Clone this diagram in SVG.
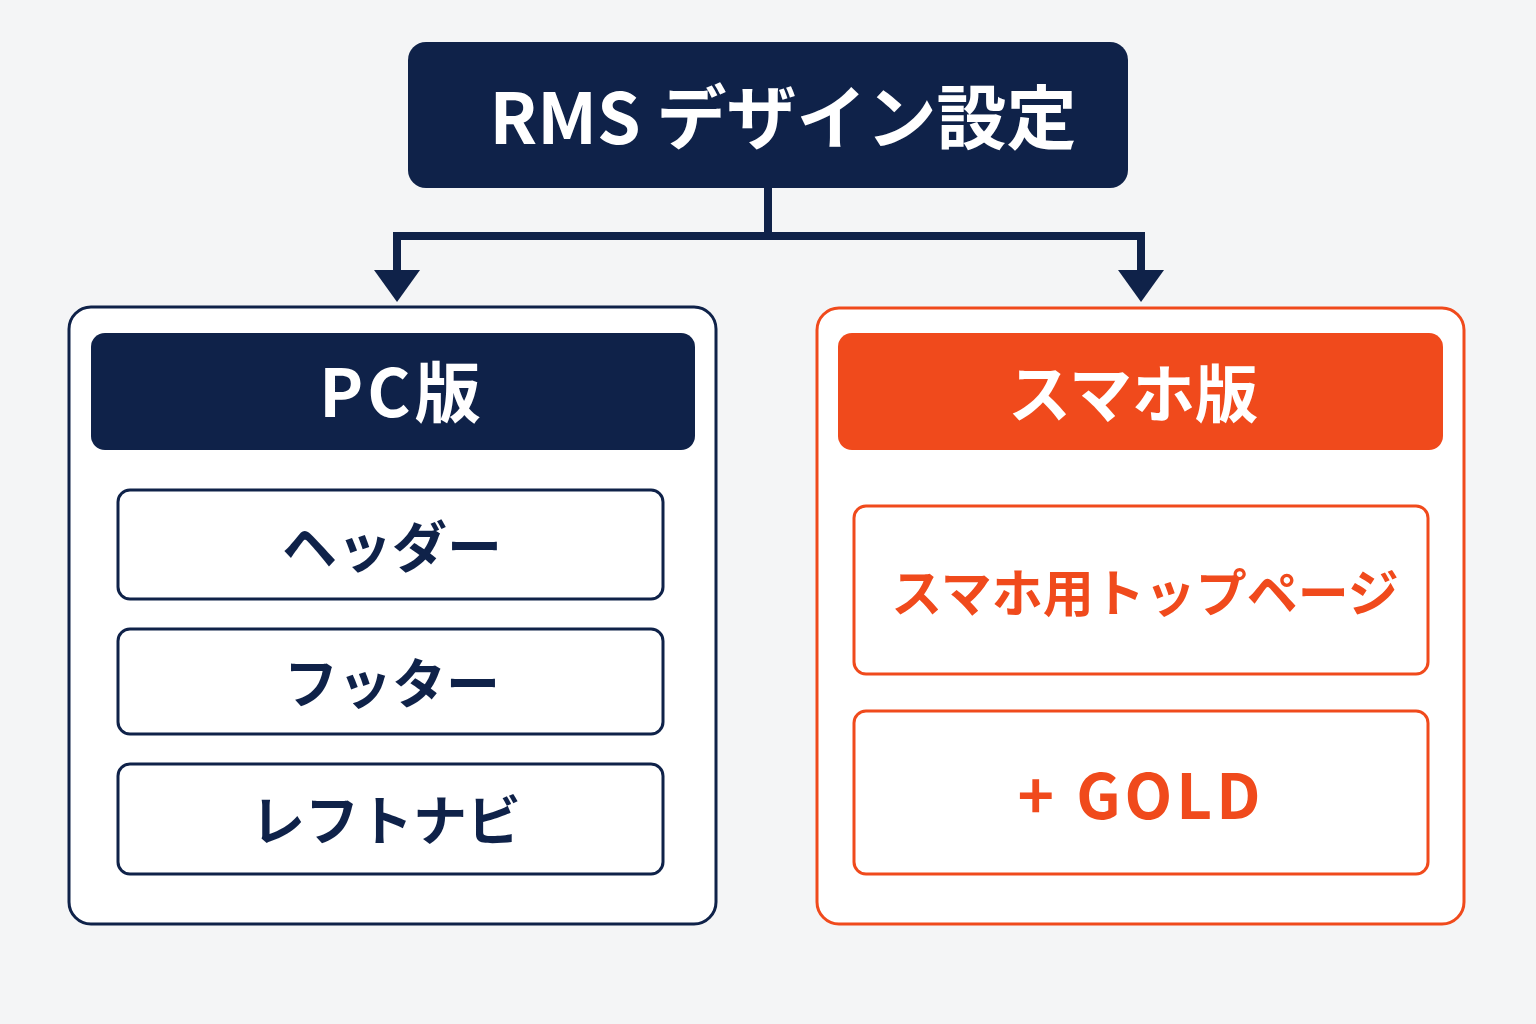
<svg xmlns="http://www.w3.org/2000/svg" width="1536" height="1024" viewBox="0 0 1536 1024">
<style>
text{font-family:"Noto Sans CJK JP","Noto Sans",sans-serif;font-weight:700;text-anchor:middle;dominant-baseline:central}
.navy{fill:#0f2249}
.orange{fill:#f04a1c}
.w{fill:#ffffff}
.panelN{fill:#ffffff;stroke:#0f2249;stroke-width:3}
.panelO{fill:#ffffff;stroke:#f04a1c;stroke-width:3}
.conn{fill:none;stroke:#0f2249;stroke-width:8}
</style>
<rect width="1536" height="1024" fill="#f4f5f6"/>
<g id="connectors">
<path class="conn" d="M768 188 V236 M396 236 H1141 M397 232 V272 M1141 232 V272"/>
<polygon class="navy" points="374,270 420,270 397,302"/>
<polygon class="navy" points="1118,270 1164,270 1141,302"/>
</g>
<g id="root">
<rect class="navy" x="408" y="42" width="720" height="146" rx="18"/>
<text class="w" x="783" y="113" font-size="70">RMS デザイン設定</text>
</g>
<g id="pc">
<rect class="panelN" x="69" y="307" width="647" height="617" rx="22"/>
<rect class="navy" x="91" y="333" width="604" height="117" rx="14"/>
<text class="w" x="402" y="388" font-size="66" letter-spacing="4">PC版</text>
</g>
<g id="pc-header">
<rect class="panelN" x="118" y="490" width="545" height="109" rx="12"/>
<text class="navy" x="392" y="543" font-size="55">ヘッダー</text>
</g>
<g id="pc-footer">
<rect class="panelN" x="118" y="629" width="545" height="105" rx="12"/>
<text class="navy" x="392" y="680" font-size="54">フッター</text>
</g>
<g id="pc-leftnav">
<rect class="panelN" x="118" y="764" width="545" height="110" rx="12"/>
<text class="navy" x="386" y="817" font-size="54">レフトナビ</text>
</g>
<g id="sp">
<rect class="panelO" x="817" y="308" width="647" height="616" rx="22"/>
<rect class="orange" x="838" y="333" width="605" height="117" rx="14"/>
<text class="w" x="1133" y="389" font-size="63">スマホ版</text>
</g>
<g id="sp-top">
<rect class="panelO" x="854" y="506" width="574" height="168" rx="12"/>
<text class="orange" x="1145" y="590" font-size="51">スマホ用トップページ</text>
</g>
<g id="sp-gold">
<rect class="panelO" x="854" y="711" width="574" height="163" rx="12"/>
<text class="orange" x="1141" y="792" font-size="62" letter-spacing="4">+ GOLD</text>
</g>
</svg>
